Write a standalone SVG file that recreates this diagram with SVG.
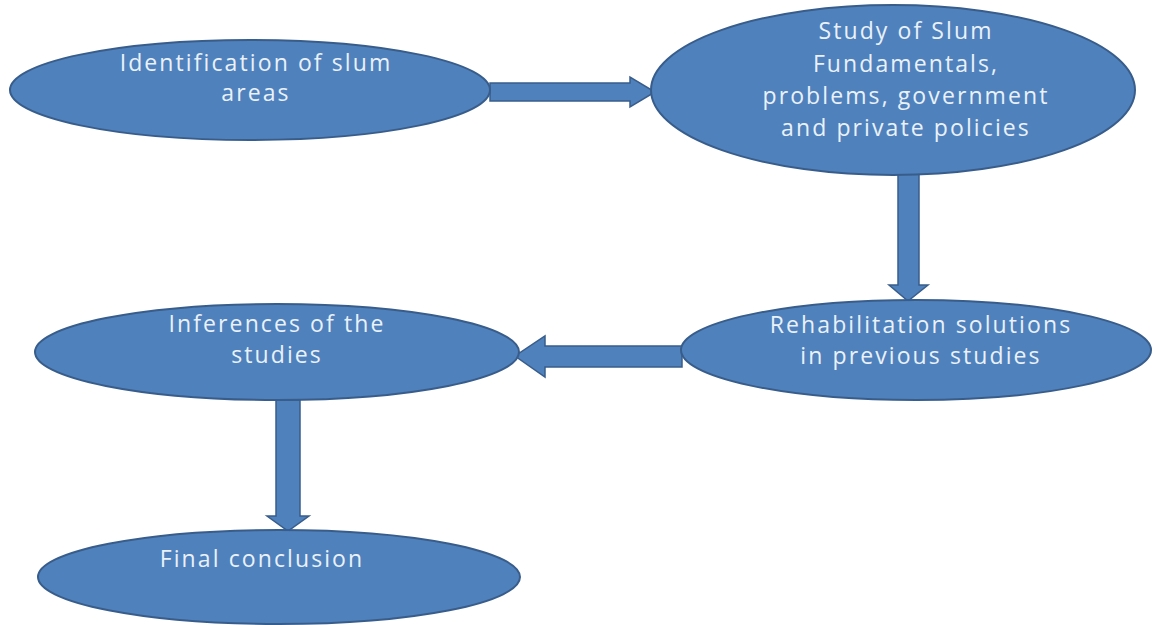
<svg xmlns="http://www.w3.org/2000/svg" width="1153" height="625" viewBox="0 0 1153 625">
<style>
.node{fill:#4F81BD;stroke:#385D8A;stroke-width:2}
.arrow{fill:#4F81BD;stroke:#385D8A;stroke-width:1.5}
.lbl{font-family:"Open Sans","Liberation Sans",Arial,sans-serif;font-size:23px;letter-spacing:2.1px;fill:#EAF1F9;text-anchor:middle}
</style>
<rect width="1153" height="625" fill="#FFFFFF"/>
<g id="connectors">
<polygon class="arrow" points="490,83 630,83 630,77 655,92 630,107 630,101 490,101"/>
<polygon class="arrow" points="898,174 919,174 919,285 928,285 908,301 889,285 898,285"/>
<polygon class="arrow" points="682,346 545,346 545,336 515,356 545,377 545,367 682,367"/>
<polygon class="arrow" points="276,400 300,400 300,516 309,516 288,531 267,516 276,516"/>
</g>
<g id="n1">
<ellipse class="node" cx="250" cy="90" rx="240" ry="50"/>
<text class="lbl" x="256" y="71">Identification of slum</text>
<text class="lbl" x="256" y="101">areas</text>
</g>
<g id="n2">
<ellipse class="node" cx="893" cy="90" rx="242" ry="85"/>
<text class="lbl" x="906" y="39">Study of Slum</text>
<text class="lbl" x="906" y="72">Fundamentals,</text>
<text class="lbl" x="906" y="104">problems, government</text>
<text class="lbl" x="906" y="136">and private policies</text>
</g>
<g id="n3">
<ellipse class="node" cx="916" cy="350" rx="235" ry="50"/>
<text class="lbl" x="921" y="333">Rehabilitation solutions</text>
<text class="lbl" x="921" y="364">in previous studies</text>
</g>
<g id="n4">
<ellipse class="node" cx="277" cy="352" rx="242" ry="48"/>
<text class="lbl" x="277" y="332">Inferences of the</text>
<text class="lbl" x="277" y="363">studies</text>
</g>
<g id="n5">
<ellipse class="node" cx="279" cy="577" rx="241" ry="47"/>
<text class="lbl" x="262" y="567">Final conclusion</text>
</g>
</svg>
